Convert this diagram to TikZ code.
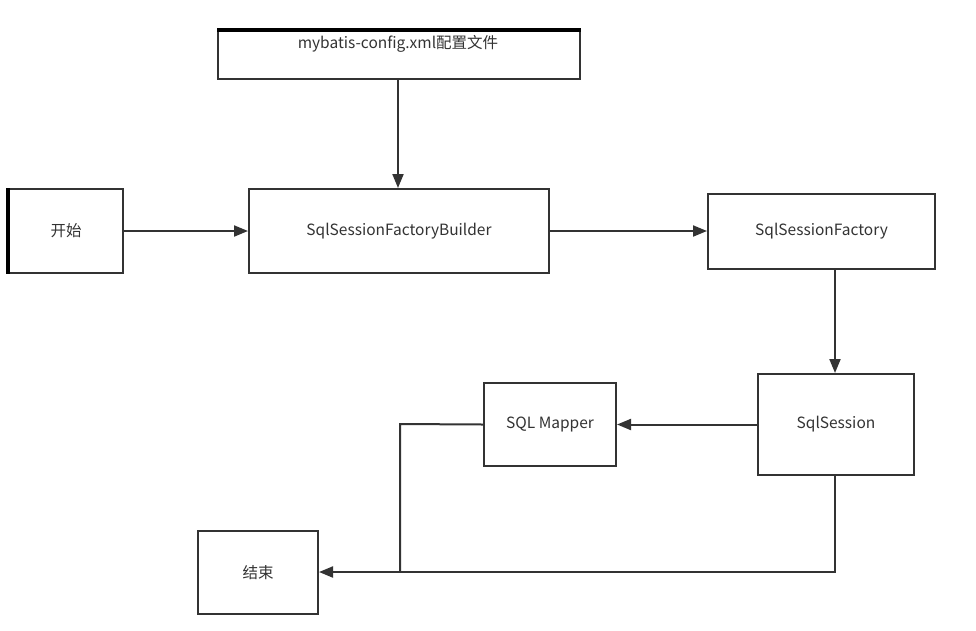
\documentclass[tikz,border=0pt]{standalone}
\usepackage{fontspec}
\setmainfont{Noto Sans CJK SC}
\usetikzlibrary{arrows.meta}
\definecolor{ln}{HTML}{333333}
\tikzset{
  x=1pt, y=-1pt,
  lbl/.style={font=\fontsize{15.5}{18}\selectfont, text=ln},
  box/.style={draw=ln, line width=2pt, fill=white, inner sep=0pt, lbl},
  conn/.style={draw=ln, line width=2pt, -{Triangle[length=14pt,width=11pt]}},
  seg/.style={draw=ln, line width=2pt}
}
\begin{document}
\begin{tikzpicture}
\useasboundingbox (0,0) rectangle (976,630);
\node[box, minimum width=362pt, minimum height=48pt, anchor=north west] (cfg) at (217,30) {};
\node[lbl] (cfgt) at (398,44) {mybatis-config.xml配置文件};
\draw[black, line width=3.5pt] (cfg.north west) -- (cfg.north east);
\node[box, minimum width=114pt, minimum height=84pt, anchor=north west] (start) at (8,188) {开始};
\draw[black, line width=3.5pt] (start.north west) -- (start.south west);
\node[box, minimum width=300pt, minimum height=84pt, anchor=north west] (builder) at (248,188) {SqlSessionFactoryBuilder};
\node[box, minimum width=227pt, minimum height=75pt, anchor=north west] (factory) at (707,193) {SqlSessionFactory};
\node[box, minimum width=156pt, minimum height=101pt, anchor=north west] (session) at (757,373) {SqlSession};
\node[box, minimum width=132pt, minimum height=83pt, anchor=north west] (mapper) at (483,382) {SQL Mapper};
\node[box, minimum width=120pt, minimum height=83pt, anchor=north west] (end) at (197,530) {结束};
\coordinate (j1) at (400,424);
\coordinate (j2) at (400,572);
\coordinate (j3) at (835,572);
\draw[conn] (cfg.south -| cfgt) -- (builder.north -| cfgt);
\draw[conn] (start.east) -- (builder.west);
\draw[conn] (builder.east) -- (factory.west |- builder.east);
\draw[conn] (factory.south -| j3) -- (session.north -| j3);
\draw[conn] (session.west) -- (mapper.east);
\draw[seg] (mapper.west) -- (j1) -- (j2);
\draw[conn] (session.south -| j3) -- (j3) -- (end.east |- j3);
\end{tikzpicture}
\end{document}
